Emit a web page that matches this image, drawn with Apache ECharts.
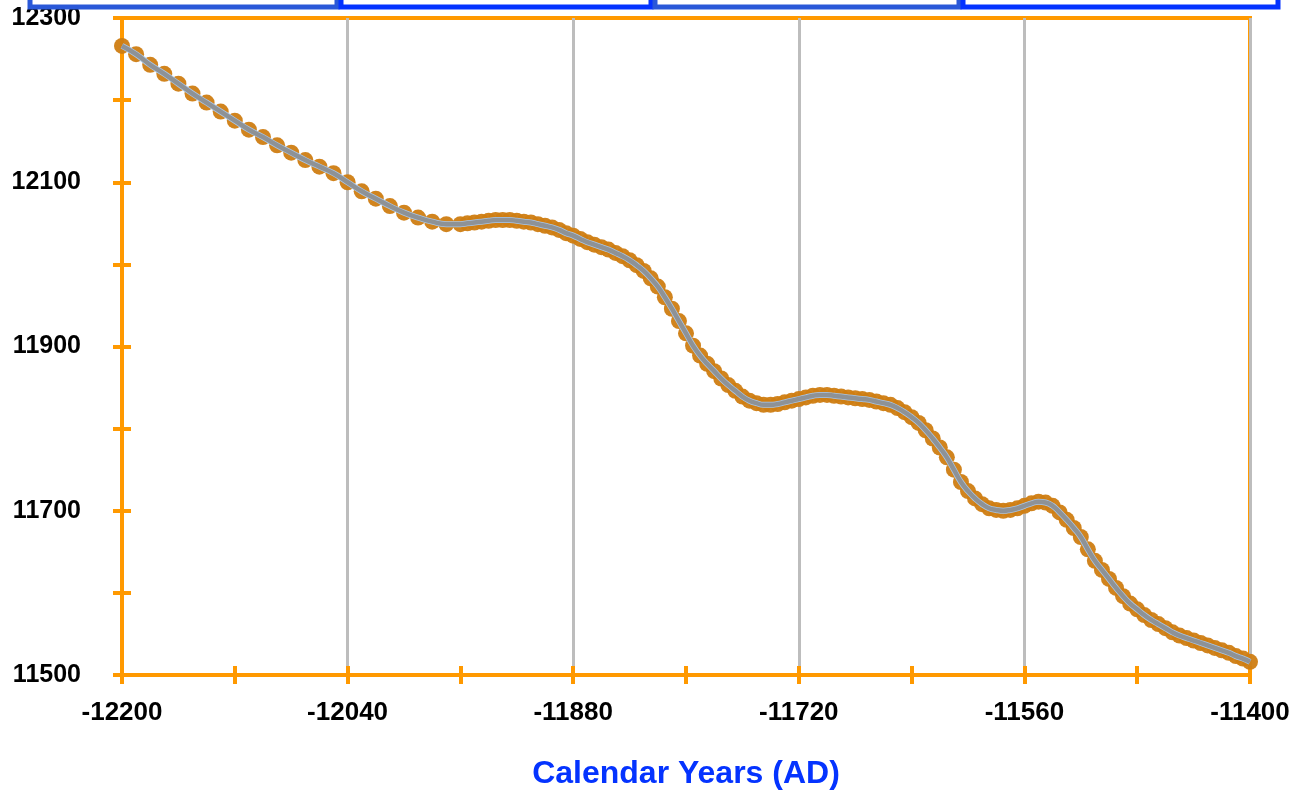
<!DOCTYPE html>
<html>
<head>
<meta charset="utf-8">
<title>Calendar Years (AD)</title>
<script src="https://cdn.jsdelivr.net/npm/echarts@6/dist/echarts.min.js"></script>
<style>
    html, body { margin: 0; padding: 0; background: #fff; }
    #chart { width: 1307px; height: 794px; }
</style>
</head>
<body>
<div id="chart"></div>
<script>
// calendar years of each point (10-year steps first, then 5-year steps)
var years = [
    -12200, -12190, -12180, -12170, -12160, -12150, -12140, -12130, -12120, -12110,
    -12100, -12090, -12080, -12070, -12060, -12050, -12040, -12030, -12020, -12010,
    -12000, -11990, -11980, -11970,
    -11960, -11955, -11950, -11945, -11940, -11935, -11930, -11925, -11920, -11915,
    -11910, -11905, -11900, -11895, -11890, -11885, -11880, -11875, -11870, -11865,
    -11860, -11855, -11850, -11845, -11840, -11835, -11830, -11825, -11820, -11815,
    -11810, -11805, -11800, -11795, -11790, -11785, -11780, -11775, -11770, -11765,
    -11760, -11755, -11750, -11745, -11740, -11735, -11730, -11725, -11720, -11715,
    -11710, -11705, -11700, -11695, -11690, -11685, -11680, -11675, -11670, -11665,
    -11660, -11655, -11650, -11645, -11640, -11635, -11630, -11625, -11620, -11615,
    -11610, -11605, -11600, -11595, -11590, -11585, -11580, -11575, -11570, -11565,
    -11560, -11555, -11550, -11545, -11540, -11535, -11530, -11525, -11520, -11515,
    -11510, -11505, -11500, -11495, -11490, -11485, -11480, -11475, -11470, -11465,
    -11460, -11455, -11450, -11445, -11440, -11435, -11430, -11425, -11420, -11415,
    -11410, -11405, -11400
];
// values
var values = [
    12266, 12256, 12243, 12232, 12220, 12208, 12197, 12186, 12175, 12164,
    12155, 12145, 12136, 12127, 12119, 12111, 12100, 12089, 12080, 12071,
    12063, 12057, 12052, 12049,
    12049, 12050, 12051, 12052, 12053, 12054, 12054, 12054, 12053, 12052,
    12051, 12049, 12047, 12045, 12042, 12038, 12035, 12031, 12027, 12024,
    12021, 12018, 12014, 12010, 12005, 11999, 11992, 11983, 11973, 11960,
    11946, 11931, 11916, 11901, 11889, 11879, 11870, 11861, 11853, 11846,
    11839, 11834, 11831, 11829, 11829, 11830, 11832, 11834, 11836, 11838,
    11840, 11841, 11841, 11840, 11839, 11838, 11837, 11836, 11835, 11833,
    11831, 11829, 11825, 11820, 11814, 11807, 11798, 11788, 11777, 11765,
    11750, 11735, 11724, 11715, 11708, 11703, 11701, 11700, 11701, 11703,
    11706, 11709, 11711, 11710, 11706, 11698, 11689, 11679, 11668, 11653,
    11639, 11628, 11617, 11606, 11596, 11587, 11580, 11573, 11567, 11562,
    11557, 11552, 11548, 11545, 11542, 11539, 11536, 11533, 11530, 11527,
    11523, 11520, 11516
];
var xRange = [-12200, -11400];
var yRange = [11500, 12300];
var xTitle = 'Calendar Years (AD)';

var orange = '#ff9900';
var font = '"Liberation Sans", Arial, Helvetica, sans-serif';

var points = years.map(function (y, i) {
    return [y, values[i]];
});

// little boxes cut off at the top edge
var boxes = [
    [28, 339, '#2a58d8'],
    [339, 653, '#0433ff'],
    [653, 961, '#2a58d8'],
    [961, 1280, '#0433ff']
];

function xAxisBase(interval) {
    return {
        type: 'value',
        position: 'bottom',
        min: xRange[0],
        max: xRange[1],
        interval: interval,
        axisLine: { show: false },
        axisTick: { show: false },
        axisLabel: { show: false },
        splitLine: { show: false }
    };
}
function yAxisBase(interval) {
    return {
        type: 'value',
        position: 'left',
        min: yRange[0],
        max: yRange[1],
        interval: interval,
        axisLine: { show: false },
        axisTick: { show: false },
        axisLabel: { show: false },
        splitLine: { show: false }
    };
}

var myChart = echarts.init(document.getElementById('chart'));

var xMain = xAxisBase(160);
xMain.axisLine = { show: true, lineStyle: { color: orange, width: 4 } };
xMain.axisLabel = {
    show: true,
    color: '#000',
    fontFamily: font,
    fontWeight: 'bold',
    fontSize: 26,
    margin: 25,
    formatter: function (v) { return String(v); }
};
xMain.splitLine = { show: true, lineStyle: { color: '#bdbdbd', width: 3 } };
xMain.name = xTitle;
xMain.nameLocation = 'middle';
xMain.nameGap = 83;
xMain.nameTextStyle = {
    color: '#0433ff',
    fontFamily: font,
    fontWeight: 'bold',
    fontSize: 32
};

var xTickOut = xAxisBase(80);
xTickOut.axisTick = { show: true, inside: false, length: 9, lineStyle: { color: orange, width: 4 } };
var xTickIn = xAxisBase(80);
xTickIn.axisTick = { show: true, inside: true, length: 9, lineStyle: { color: orange, width: 4 } };

var yMain = yAxisBase(200);
yMain.axisLine = { show: true, lineStyle: { color: orange, width: 4 } };
yMain.axisLabel = {
    show: true,
    color: '#000',
    fontFamily: font,
    fontWeight: 'bold',
    fontSize: 25,
    margin: 41,
    formatter: function (v) { return String(v); }
};
var yTickOut = yAxisBase(100);
yTickOut.axisTick = { show: true, inside: false, length: 9, lineStyle: { color: orange, width: 4 } };
var yTickIn = yAxisBase(100);
yTickIn.axisTick = { show: true, inside: true, length: 9, lineStyle: { color: orange, width: 4 } };

var option = {
    backgroundColor: '#fff',
    animation: false,
    grid: {
        left: 122,
        right: 57,
        top: 18,
        bottom: 119,
        outerBoundsMode: 'none',
        show: true,
        borderColor: orange,
        borderWidth: 4,
        backgroundColor: 'transparent'
    },
    graphic: boxes.map(function (b) {
        return {
            type: 'rect',
            shape: { x: b[0] + 2, y: -20, width: b[1] - b[0] - 4, height: 27 },
            style: { fill: 'none', stroke: b[2], lineWidth: 5 },
            z: 10
        };
    }),
    xAxis: [xMain, xTickOut, xTickIn],
    yAxis: [yMain, yTickOut, yTickIn],
    series: [
        {
            name: 'points',
            type: 'scatter',
            data: points,
            symbol: 'circle',
            symbolSize: 16,
            itemStyle: { color: '#cf7d12', opacity: 0.95 },
            z: 2
        },
        {
            name: 'fit halo',
            type: 'line',
            data: points,
            smooth: true,
            showSymbol: false,
            symbol: 'none',
            lineStyle: { color: '#a9c6e6', width: 6 },
            z: 3
        },
        {
            name: 'fit',
            type: 'line',
            data: points,
            smooth: true,
            showSymbol: false,
            symbol: 'none',
            lineStyle: { color: '#8e9296', width: 4.5 },
            z: 4
        }
    ]
};
myChart.setOption(option);
</script>
</body>
</html>
